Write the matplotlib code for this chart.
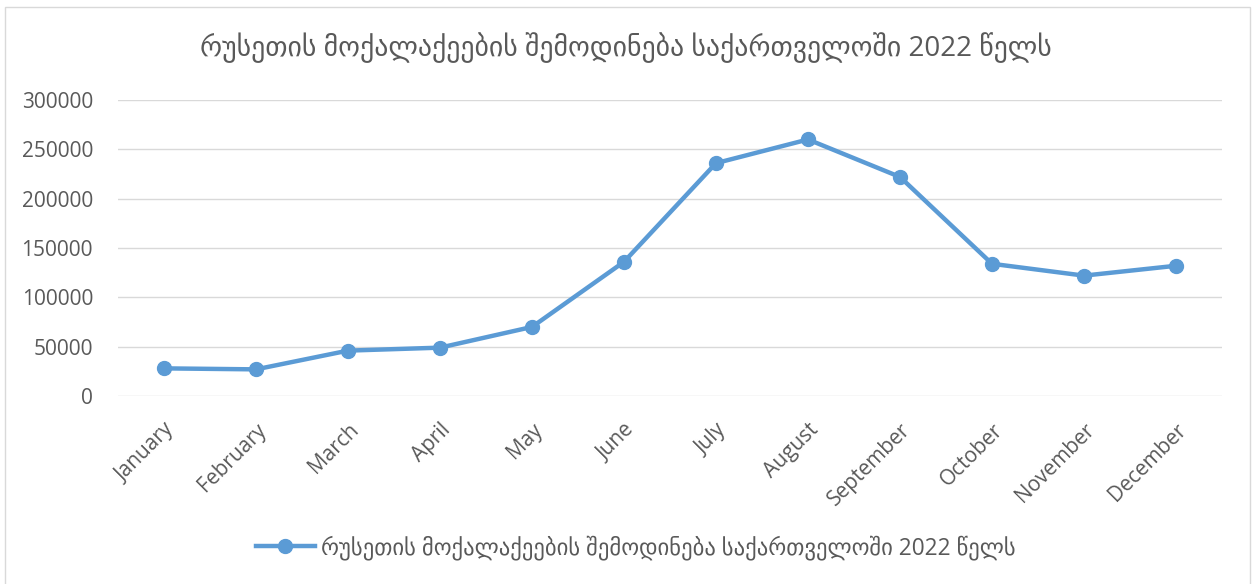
import matplotlib.pyplot as plt
from matplotlib.patches import Rectangle

# Russian citizens entering Georgia, 2022
months = ["January", "February", "March", "April", "May", "June",
          "July", "August", "September", "October", "November", "December"]
arrivals = [28000, 27000, 46000, 49000, 70000, 136000,
            236000, 260000, 222000, 134000, 122000, 132000]
yticks = [0, 50000, 100000, 150000, 200000, 250000, 300000]
title = "რუსეთის მოქალაქეების შემოდინება საქართველოში 2022 წელს"

blue = "#5B9BD5"
grey = "#595959"
fonts = ["Open Sans", "DejaVu Sans"]

fig = plt.figure(figsize=(12.52, 5.84), dpi=100)
ax = fig.add_axes([118 / 1252, 1 - 396 / 584, 1104 / 1252, 296 / 584])

x = list(range(len(months)))
ax.plot(x, arrivals, color=blue, lw=3.2, marker="o", ms=10, label=title)

ax.set_xlim(-0.5, len(months) - 0.5)
ax.set_ylim(0, 300000)
ax.set_yticks(yticks)
ax.set_yticklabels([str(v) for v in yticks], family=fonts, fontsize=15, color=grey)
ax.set_xticks(x)
ax.set_xticklabels(months, rotation=45, ha="right", rotation_mode="anchor",
                   family=fonts, fontsize=15, color=grey)
ax.tick_params(axis="x", length=0, pad=17)
ax.tick_params(axis="y", length=0, pad=18)
ax.grid(axis="y", color="#D9D9D9", lw=1)
ax.set_axisbelow(True)
for s in ax.spines.values():
    s.set_visible(False)

fig.text(626 / 1252, 1 - 48 / 584, title, ha="center", va="center",
         family=fonts, fontsize=20, color=grey)

leg = fig.legend(loc="center", bbox_to_anchor=(636 / 1252, 1 - 548 / 584),
                 frameon=False, prop={"family": fonts, "size": 16.3},
                 handlelength=2.6, handletextpad=0.3)
for t in leg.get_texts():
    t.set_color(grey)

# thin chart border like the office export
fig.patches.append(Rectangle((5 / 1252, -0.02), 1245 / 1252, 1 - 7 / 584 + 0.02,
                             transform=fig.transFigure, fill=False,
                             edgecolor="#D9D9D9", lw=1))

fig.savefig("out.png", dpi=100)
